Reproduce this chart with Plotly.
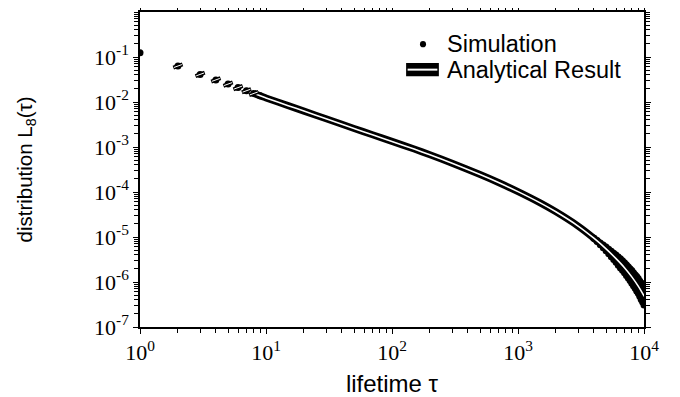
import plotly.graph_objects as go

# ---- data ----
sim_tau = [1, 2, 3, 4, 5, 6, 7, 8, 9,
           4000, 4000, 4250, 4250, 4500, 4500, 4750, 4750, 5000, 5000,
           5250, 5250, 5500, 5500, 5750, 5750, 6000, 6000, 6250, 6250,
           6500, 6500, 6750, 6750, 7000, 7000, 7250, 7250, 7500, 7500,
           7750, 7750, 8000, 8000, 8250, 8250, 8500, 8500, 8750, 8750,
           9000, 9000, 9250, 9250, 9500, 9500, 9750, 9750, 10000, 10000]
sim_L = [0.125, 0.063, 0.041, 0.031, 0.025, 0.0209, 0.0178, 0.0155, 0.0137,
         9.4e-6, 9.4e-6, 8.32e-6, 7.94e-6, 7.40e-6, 6.75e-6, 6.61e-6, 5.75e-6, 5.97e-6, 4.97e-6,
         5.35e-6, 4.25e-6, 4.82e-6, 3.66e-6, 4.35e-6, 3.15e-6, 3.97e-6, 2.75e-6, 3.59e-6, 2.37e-6,
         3.27e-6, 2.06e-6, 2.96e-6, 1.82e-6, 2.68e-6, 1.61e-6, 2.43e-6, 1.40e-6, 2.18e-6, 1.22e-6,
         1.97e-6, 1.08e-6, 1.80e-6, 9.4e-7, 1.61e-6, 8.3e-7, 1.45e-6, 7.3e-7, 1.32e-6, 6.3e-7,
         1.19e-6, 5.6e-7, 1.05e-6, 4.8e-7, 9.5e-7, 4.1e-7, 8.6e-7, 3.6e-7, 7.8e-7, 3.1e-7]

ana_disc_tau = [2, 3, 4, 5, 6, 7, 8]
ana_disc_L = [0.063, 0.041, 0.031, 0.025, 0.0209, 0.0178, 0.0155]

ana_tau = [8, 9, 10, 15, 20, 30, 50, 70, 100, 150, 200, 300, 500, 700, 1000,
           1500, 2000, 3000, 4000, 5000, 6000, 7000, 8000, 9000, 10000]
ana_L = [0.0155, 0.0137, 0.0123, 0.0083, 0.00628, 0.00424, 0.00258, 0.00187, 1.33e-3,
         9.0e-4, 6.73e-4, 4.37e-4, 2.45e-4, 1.63e-4, 1.02e-4,
         5.73e-5, 3.63e-5, 1.75e-5, 9.4e-6, 5.45e-6, 3.30e-6, 2.08e-6, 1.30e-6, 8.1e-7, 4.9e-7]

x_tickvals = [1, 10, 100, 1000, 10000]
x_ticktext = ["10<sup>0</sup>", "10<sup>1</sup>", "10<sup>2</sup>", "10<sup>3</sup>", "10<sup>4</sup>"]
y_tickvals = [1e-7, 1e-6, 1e-5, 1e-4, 1e-3, 1e-2, 1e-1]
y_ticktext = ["10<sup>-7</sup>", "10<sup>-6</sup>", "10<sup>-5</sup>", "10<sup>-4</sup>",
              "10<sup>-3</sup>", "10<sup>-2</sup>", "10<sup>-1</sup>"]

legend_names = ["Simulation", "Analytical Result"]

SANS = "Liberation Sans, Arial, sans-serif"
SERIF = "Liberation Serif, Times New Roman, serif"

fig = go.Figure()

fig.add_trace(go.Scatter(x=sim_tau, y=sim_L, mode="markers", name=legend_names[0],
                         showlegend=False,
                         marker=dict(color="black", size=7, line=dict(width=0))))
fig.add_trace(go.Scatter(x=ana_tau, y=ana_L, mode="lines", name=legend_names[1],
                         showlegend=False,
                         line=dict(color="black", width=7, shape="spline", smoothing=0.8)))
fig.add_trace(go.Scatter(x=ana_tau, y=ana_L, mode="lines", showlegend=False,
                         line=dict(color="white", width=1.6, shape="spline", smoothing=0.8)))
fig.add_trace(go.Scatter(x=ana_disc_tau, y=ana_disc_L, mode="markers", showlegend=False,
                         marker=dict(symbol="line-ew", size=7, angle=-20,
                                     line=dict(color="black", width=4))))
fig.add_trace(go.Scatter(x=ana_disc_tau, y=ana_disc_L, mode="markers", showlegend=False,
                         marker=dict(symbol="line-ew", size=6, angle=-20,
                                     line=dict(color="white", width=1))))

# ---- hand-drawn legend (paper coordinates) ----
fig.add_shape(type="circle", xref="paper", yref="paper",
              x0=0.5555, x1=0.5675, y0=0.888, y1=0.908,
              fillcolor="black", line=dict(width=0))
fig.add_shape(type="rect", xref="paper", yref="paper",
              x0=0.528, x1=0.593, y0=0.796, y1=0.838,
              fillcolor="black", line=dict(width=0))
fig.add_shape(type="line", xref="paper", yref="paper",
              x0=0.531, x1=0.590, y0=0.817, y1=0.817,
              line=dict(color="white", width=2))
fig.add_annotation(xref="paper", yref="paper", x=0.606, y=0.898, xanchor="left", yanchor="middle",
                   text=legend_names[0], showarrow=False, font=dict(family=SANS, size=23.5))
fig.add_annotation(xref="paper", yref="paper", x=0.606, y=0.816, xanchor="left", yanchor="middle",
                   text=legend_names[1], showarrow=False, font=dict(family=SANS, size=23.5))

axis_common = dict(type="log", showgrid=False, zeroline=False, automargin=False,
                   showline=True, linecolor="black", linewidth=1.5,
                   ticks="outside", ticklen=5, tickwidth=1.2, tickcolor="black",
                   mirror="allticks",
                   minor=dict(ticks="outside", ticklen=4, tickwidth=1, tickcolor="black", dtick="D1"))

# the page body adds an 8px margin, so the figure is sized/offset to compensate
fig.update_layout(
    width=672, height=389,
    margin=dict(l=132, r=36, t=4, b=70),
    paper_bgcolor="white", plot_bgcolor="white",
    font=dict(family=SANS, color="black", size=19),
    showlegend=False,
    xaxis=dict(**axis_common, range=[0, 4],
               tickvals=x_tickvals, ticktext=x_ticktext,
               tickfont=dict(family=SERIF, size=22),
               title=dict(text="lifetime τ", font=dict(family=SANS, size=24), standoff=13)),
    yaxis=dict(**axis_common, range=[-7, 0],
               tickvals=y_tickvals, ticktext=y_ticktext,
               tickfont=dict(family=SERIF, size=22),
               title=dict(text="distribution L<sub>8</sub>(τ)", font=dict(family=SANS, size=20.5), standoff=56)),
    xaxis2=dict(type="log", range=[0, 4], overlaying="x", anchor="y", side="bottom",
                showgrid=False, zeroline=False, showline=False, showticklabels=False,
                automargin=False,
                ticks="inside", ticklen=5, tickwidth=1.2, tickcolor="black", mirror="allticks",
                tickvals=x_tickvals,
                minor=dict(ticks="inside", ticklen=4, tickwidth=1, tickcolor="black", dtick="D1")),
    yaxis2=dict(type="log", range=[-7, 0], overlaying="y", anchor="x", side="left",
                showgrid=False, zeroline=False, showline=False, showticklabels=False,
                automargin=False,
                ticks="inside", ticklen=5, tickwidth=1.2, tickcolor="black", mirror="allticks",
                tickvals=y_tickvals,
                minor=dict(ticks="inside", ticklen=4, tickwidth=1, tickcolor="black", dtick="D1")),
)

fig.write_html("out.html")
